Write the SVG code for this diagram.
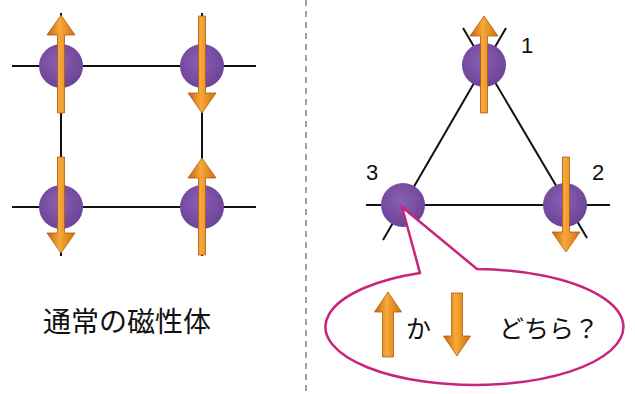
<svg xmlns="http://www.w3.org/2000/svg" width="635" height="394" viewBox="0 0 635 394">
<defs>
<linearGradient id="og" x1="0" y1="0" x2="1" y2="0">
<stop offset="0" stop-color="#c4620c"/>
<stop offset="0.45" stop-color="#f7a93a"/>
<stop offset="1" stop-color="#d0700e"/>
</linearGradient>
<radialGradient id="pg" cx="0.45" cy="0.4" r="0.6">
<stop offset="0" stop-color="#8a60b4"/>
<stop offset="1" stop-color="#6c4396"/>
</radialGradient>
</defs>
<style>
.ln{stroke:#111;stroke-width:2;fill:none}
.site{fill:url(#pg)}
.arr{fill:url(#og);stroke:#b35a0c;stroke-width:0.8;stroke-linejoin:round}
.num{font-family:"Liberation Sans",Arial,sans-serif;font-size:22px;fill:#111}
.jp{font-family:"Noto Sans CJK JP","Noto Sans CJK SC",sans-serif;fill:#111}
</style>
<line x1="306" y1="0" x2="306" y2="394" stroke="#8a8a8a" stroke-width="1.6" stroke-dasharray="6,5"/>
<g id="connectors">
<line class="ln" x1="12" y1="66" x2="256" y2="66"/>
<line class="ln" x1="12" y1="207" x2="256" y2="207"/>
<line class="ln" x1="61" y1="13" x2="61" y2="256"/>
<line class="ln" x1="202" y1="13" x2="202" y2="256"/>
<line class="ln" x1="366" y1="205" x2="610" y2="205"/>
<line class="ln" x1="383" y1="240" x2="506" y2="28"/>
<line class="ln" x1="463" y1="28" x2="587" y2="238"/>
</g>
<g id="n-a"><circle class="site" cx="61" cy="66" r="22"/><path class="arr" d="M61,15 L75,35 L64.5,35 L64.5,113 L57.5,113 L57.5,35 L47,35 Z"/></g>
<g id="n-b"><circle class="site" cx="202" cy="66" r="22"/><path class="arr" d="M202,113 L216,93 L205.5,93 L205.5,16 L198.5,16 L198.5,93 L188,93 Z"/></g>
<g id="n-c"><circle class="site" cx="61" cy="207" r="22"/><path class="arr" d="M61,253 L75,233 L64.5,233 L64.5,157 L57.5,157 L57.5,233 L47,233 Z"/></g>
<g id="n-d"><circle class="site" cx="202" cy="207" r="22"/><path class="arr" d="M202,158 L216,178 L205.5,178 L205.5,255 L198.5,255 L198.5,178 L188,178 Z"/></g>
<g id="label-left"><text class="jp" x="43" y="332" font-size="28">通常の磁性体</text></g>
<g id="n1"><circle class="site" cx="484" cy="65" r="22"/><path class="arr" d="M484,16 L498,36 L487.5,36 L487.5,113 L480.5,113 L480.5,36 L470,36 Z"/><text class="num" x="521" y="53">1</text></g>
<g id="n2"><circle class="site" cx="565" cy="205" r="22"/><path class="arr" d="M566,252 L580,232 L569.5,232 L569.5,157 L562.5,157 L562.5,232 L552,232 Z"/><text class="num" x="592" y="180">2</text></g>
<g id="n3"><circle class="site" cx="403" cy="205" r="22"/><text class="num" x="366" y="180">3</text></g>
<g id="bubble">
<path d="M420,273 L402,207 L477,269 A149,58 0 1 1 420,273 Z" fill="#fff" stroke="#c8247c" stroke-width="2.5" stroke-linejoin="miter"/>
<path class="arr" d="M388,292 L401.5,312 L393.5,312 L393.5,357 L382.5,357 L382.5,312 L374.5,312 Z"/>
<text class="jp" x="406" y="338" font-size="25">か</text>
<path class="arr" d="M457,356 L470.5,336 L462.5,336 L462.5,293 L451.5,293 L451.5,336 L443.5,336 Z"/>
<text class="jp" x="499" y="338" font-size="25">どちら？</text>
</g>
</svg>
